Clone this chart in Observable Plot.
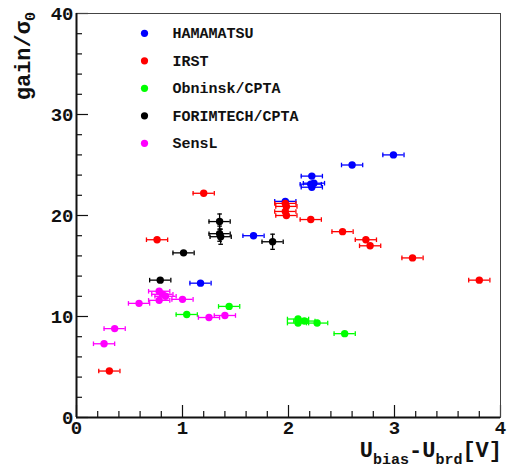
<!DOCTYPE html>
<html><head><meta charset="utf-8">
<script src="https://cdn.jsdelivr.net/npm/d3@7"></script>
<script src="https://cdn.jsdelivr.net/npm/@observablehq/plot@0.6"></script>
<style>
html,body{margin:0;padding:0;background:#fff;}
#chart svg{display:block;}
</style></head><body><div id="chart"></div>
<script>
// ---- data ----
const seriesNames = ["HAMAMATSU", "IRST", "Obninsk/CPTA", "FORIMTECH/CPTA", "SensL"];
const seriesColors = ["#0000ff", "#ff0000", "#00ff00", "#000000", "#ff00ff"];

const hamamatsuX = [2.99, 2.60, 2.22, 2.24, 2.21, 2.22, 1.97, 1.67, 1.17];
const hamamatsuY = [26.0, 25.0, 23.9, 23.2, 23.1, 22.8, 21.4, 18.0, 13.3];

const irstX = [0.31, 0.76, 1.20, 1.97, 1.98, 1.97, 1.98, 2.21, 2.51, 2.73, 2.77, 3.17, 3.80];
const irstY = [4.6, 17.6, 22.2, 21.2, 20.9, 20.4, 20.0, 19.6, 18.4, 17.6, 17.0, 15.8, 13.6];

const obninskX = [1.04, 1.44, 2.09, 2.09, 2.15, 2.27, 2.53];
const obninskY = [10.2, 11.0, 9.75, 9.35, 9.55, 9.35, 8.3];

const forimtechX = [0.79, 1.01, 1.35, 1.35, 1.36, 1.85];
const forimtechY = [13.6, 16.3, 19.4, 18.2, 17.9, 17.4];
const forimtechEY = [0, 0, 0.75, 0.75, 0.75, 0.75];

const senslX = [0.26, 0.36, 0.59, 0.78, 0.78, 0.81, 0.84, 1.00, 1.25, 1.40];
const senslY = [7.3, 8.8, 11.3, 11.6, 12.5, 12.2, 12.0, 11.7, 9.9, 10.1];

const xError = 0.1;

const xMajorTicks = [0, 1, 2, 3, 4];
const xMinorTicks = [0.2, 0.4, 0.6, 0.8, 1.2, 1.4, 1.6, 1.8, 2.2, 2.4, 2.6, 2.8, 3.2, 3.4, 3.6, 3.8];
const yMajorTicks = [0, 10, 20, 30, 40];
const yMinorTicks = [2, 4, 6, 8, 12, 14, 16, 18, 22, 24, 26, 28, 32, 34, 36, 38];

// ---- build ----
const seriesData = [
  [hamamatsuX, hamamatsuY, null],
  [irstX, irstY, null],
  [obninskX, obninskY, null],
  [forimtechX, forimtechY, forimtechEY],
  [senslX, senslY, null]
].map(([xs, ys, eys], i) => xs.map((x, j) => ({
  series: seriesNames[i], x, y: ys[j], ex: xError, ey: eys ? eys[j] : 0
})));

const W = 508, H = 468, mL = 76, mR = 8, mT = 13, mB = 51;
const plotW = W - mL - mR, plotH = H - mT - mB;
const FONT = "'Liberation Mono', 'DejaVu Sans Mono', monospace";

const vCap = {draw(ctx) { ctx.moveTo(0, -2.3); ctx.lineTo(0, 2.3); }};
const hCap = {draw(ctx) { ctx.moveTo(-2.3, 0); ctx.lineTo(2.3, 0); }};

const marks = [];
// axis ticks inside frame
marks.push(Plot.ruleX(xMajorTicks, {x: d => d, insetTop: plotH - 12, stroke: "#111", strokeWidth: 1.2}));
marks.push(Plot.ruleX(xMinorTicks, {x: d => d, insetTop: plotH - 6, stroke: "#111", strokeWidth: 1.2}));
marks.push(Plot.ruleY(yMajorTicks, {y: d => d, insetRight: plotW - 12, stroke: "#111", strokeWidth: 1.2}));
marks.push(Plot.ruleY(yMinorTicks, {y: d => d, insetRight: plotW - 6, stroke: "#111", strokeWidth: 1.2}));
marks.push(Plot.frame({stroke: "#444", strokeWidth: 1}));
marks.push(Plot.ruleX([xMajorTicks[0]], {x: d => d, stroke: "#111", strokeWidth: 2}));
marks.push(Plot.ruleY([yMajorTicks[0]], {y: d => d, stroke: "#111", strokeWidth: 2}));

seriesData.forEach((rows, i) => {
  const c = seriesColors[i];
  marks.push(Plot.ruleY(rows, {y: "y", x1: d => d.x - d.ex, x2: d => d.x + d.ex, stroke: c, strokeWidth: 1.3}));
  marks.push(Plot.dot(rows, {x: d => d.x - d.ex, y: "y", symbol: vCap, r: 3, fill: "none", stroke: c, strokeWidth: 1.3}));
  marks.push(Plot.dot(rows, {x: d => d.x + d.ex, y: "y", symbol: vCap, r: 3, fill: "none", stroke: c, strokeWidth: 1.3}));
  const vr = rows.filter(d => d.ey > 0);
  if (vr.length) {
    marks.push(Plot.ruleX(vr, {x: "x", y1: d => d.y - d.ey, y2: d => d.y + d.ey, stroke: c, strokeWidth: 1.3}));
    marks.push(Plot.dot(vr, {x: "x", y: d => d.y - d.ey, symbol: hCap, r: 3, fill: "none", stroke: c, strokeWidth: 1.3}));
    marks.push(Plot.dot(vr, {x: "x", y: d => d.y + d.ey, symbol: hCap, r: 3, fill: "none", stroke: c, strokeWidth: 1.3}));
  }
  marks.push(Plot.dot(rows, {x: "x", y: "y", r: 3.7, fill: c, stroke: "none"}));
});

// legend
seriesNames.forEach((name, i) => {
  const dy = 19.8 + i * 27.5;
  marks.push(Plot.dot([name], {frameAnchor: "top-left", dx: 68, dy, r: 3.6, fill: seriesColors[i], stroke: "none"}));
  marks.push(Plot.text([name], {frameAnchor: "top-left", dx: 96, dy, text: d => d, textAnchor: "start",
    lineAnchor: "middle", fontSize: 15, fontWeight: "bold", fontFamily: FONT, fill: "#111"}));
});

marks.push(Plot.axisX({ticks: xMajorTicks, tickSize: 0, tickPadding: 3, label: null, tickFormat: d => String(d),
  fontSize: 19, fontWeight: "bold", fontFamily: FONT, fill: "#111"}));
marks.push(Plot.axisY({ticks: yMajorTicks, tickSize: 0, tickPadding: 3, label: null, tickFormat: d => String(d),
  fontSize: 19, fontWeight: "bold", fontFamily: FONT, fill: "#111"}));

const plot = Plot.plot({
  width: W, height: H,
  marginLeft: mL, marginRight: mR, marginTop: mT, marginBottom: mB,
  x: {domain: [0, 4]},
  y: {domain: [0, 40]},
  style: {background: "#fff", color: "#111"},
  marks
});
document.getElementById("chart").append(plot);

// axis titles with subscripts
const svg = d3.select(plot);
const yt = svg.append("text")
  .attr("transform", `translate(30,12) rotate(-90)`)
  .attr("text-anchor", "end")
  .attr("font-family", FONT).attr("font-weight", "bold").attr("font-size", 22).attr("fill", "#111");
yt.append("tspan").text("gain/σ");
yt.append("tspan").attr("font-size", 15).attr("dy", 5).text("0");

const xt = svg.append("text")
  .attr("x", 502).attr("y", 457)
  .attr("text-anchor", "end")
  .attr("font-family", FONT).attr("font-weight", "bold").attr("font-size", 22).attr("fill", "#111");
xt.append("tspan").text("U");
xt.append("tspan").attr("font-size", 15).attr("dy", 7).text("bias");
xt.append("tspan").attr("dy", -7).text("-U");
xt.append("tspan").attr("font-size", 15).attr("dy", 7).text("brd");
xt.append("tspan").attr("dy", -7).text("[V]");
</script>
</body></html>
